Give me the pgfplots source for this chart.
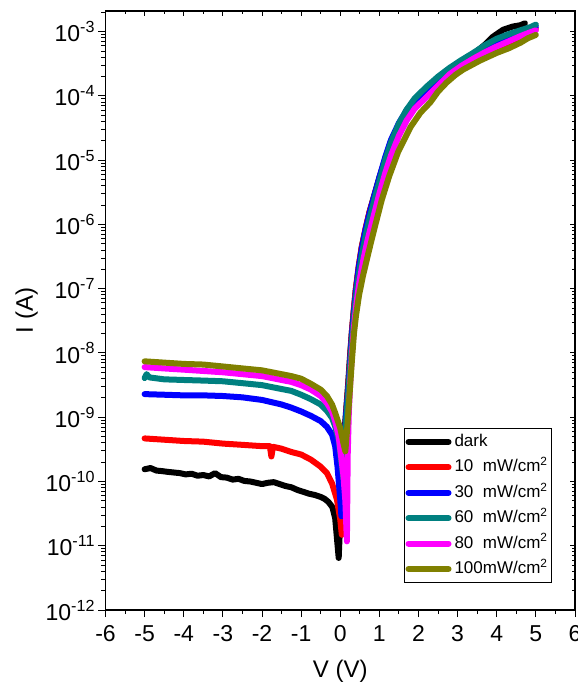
\documentclass[border=0pt]{standalone}
\usepackage{pgfplots}
\pgfplotsset{compat=1.18}
\usepackage{fontspec}
\setmainfont{Liberation Sans}
\usetikzlibrary{calc}
\definecolor{cteal}{RGB}{0,128,128}
\definecolor{colive}{RGB}{128,128,0}
\definecolor{cmag}{RGB}{255,0,255}
\definecolor{cred}{RGB}{255,0,0}
\definecolor{cblue}{RGB}{0,0,255}
\begin{document}
\begin{tikzpicture}
\begin{semilogyaxis}[name=ax, scale only axis, width=469.5pt, height=599pt,
  xmin=-6, xmax=6, ymin=1e-12, ymax=2.1e-3,
  xtick={-6,-5,-4,-3,-2,-1,0,1,2,3,4,5,6}, minor x tick num=1,
  ytick={1e-12,1e-11,1e-10,1e-9,1e-8,1e-7,1e-6,1e-5,1e-4,1e-3},
  minor ytick={2e-12,3e-12,4e-12,5e-12,6e-12,7e-12,8e-12,9e-12,
    2e-11,3e-11,4e-11,5e-11,6e-11,7e-11,8e-11,9e-11,
    2e-10,3e-10,4e-10,5e-10,6e-10,7e-10,8e-10,9e-10,
    2e-9,3e-9,4e-9,5e-9,6e-9,7e-9,8e-9,9e-9,
    2e-8,3e-8,4e-8,5e-8,6e-8,7e-8,8e-8,9e-8,
    2e-7,3e-7,4e-7,5e-7,6e-7,7e-7,8e-7,9e-7,
    2e-6,3e-6,4e-6,5e-6,6e-6,7e-6,8e-6,9e-6,
    2e-5,3e-5,4e-5,5e-5,6e-5,7e-5,8e-5,9e-5,
    2e-4,3e-4,4e-4,5e-4,6e-4,7e-4,8e-4,9e-4,2e-3},
  major tick length=7pt, minor tick length=4pt,
  tick style={black, line width=1pt},
  axis line style={line width=1.3pt},
  tick align=outside, xtick pos=left, ytick pos=left,
  xticklabels={-6,-5,-4,-3,-2,-1,0,1,2,3,4,5,6},
  yticklabels={10\textsuperscript{-12},10\textsuperscript{-11},10\textsuperscript{-10},10\textsuperscript{-9},10\textsuperscript{-8},10\textsuperscript{-7},10\textsuperscript{-6},10\textsuperscript{-5},10\textsuperscript{-4},10\textsuperscript{-3}},
  ticklabel style={font=\fontsize{23}{23}\selectfont},
  xticklabel style={yshift=-5pt},
  xlabel={V (V)}, ylabel={I (A)},
  label style={font=\fontsize{24}{24}\selectfont},
  xlabel style={at={(axis description cs:0.5,-0.102)}, anchor=center},
  ylabel style={at={(axis description cs:-0.168,0.5)}, anchor=center},
  legend cell align=left,
  legend image code/.code={\draw[#1, line width=6pt, line cap=round] (0pt,0pt) -- (40pt,0pt);},
  legend style={at={(0.951,0.304)}, anchor=north east, draw=black, line width=0.8pt,
    font=\fontsize{17}{17}\selectfont,
    nodes={text height=13pt, text depth=4pt, inner ysep=4.2pt, inner xsep=3pt},
    inner sep=1pt},
  every axis plot/.append style={no marks, line width=6pt, line join=round, line cap=round},
]
% dark
\addplot[black] coordinates {
(-5.00,1.55e-10)(-4.85,1.62e-10)(-4.70,1.48e-10)(-4.55,1.45e-10)(-4.40,1.41e-10)
(-4.25,1.38e-10)(-4.10,1.35e-10)(-3.95,1.29e-10)(-3.80,1.32e-10)(-3.65,1.23e-10)
(-3.50,1.26e-10)(-3.35,1.20e-10)(-3.20,1.35e-10)(-3.05,1.17e-10)(-2.90,1.15e-10)
(-2.75,1.07e-10)(-2.60,1.10e-10)(-2.45,1.02e-10)(-2.30,1.00e-10)(-2.15,9.55e-11)
(-2.00,9.12e-11)(-1.85,9.55e-11)(-1.70,9.77e-11)(-1.55,9.12e-11)(-1.40,8.51e-11)
(-1.25,8.13e-11)(-1.10,7.41e-11)(-0.95,6.92e-11)(-0.80,6.46e-11)(-0.65,6.17e-11)
(-0.50,5.75e-11)(-0.40,5.37e-11)(-0.30,4.79e-11)(-0.20,3.98e-11)(-0.13,2.69e-11)
(-0.085,1.32e-11)(-0.04,6.46e-12)(0.00,2.51e-11)(0.05,1.26e-10)(0.10,5.01e-10)
(0.15,1.26e-9)(0.20,3.16e-9)(0.25,8.91e-9)(0.30,2.24e-8)(0.40,1.00e-7)
(0.55,4.47e-7)(0.75,1.58e-6)(1.00,5.37e-6)(1.30,2.00e-5)(1.70,6.03e-5)
(2.20,1.32e-4)(2.80,2.51e-4)(3.40,4.47e-4)(3.70,6.31e-4)(3.90,8.32e-4)
(4.16,1.07e-3)(4.40,1.20e-3)(4.60,1.26e-3)(4.72,1.35e-3)
};
\addlegendentry{dark}
% 10 mW/cm2
\addplot[cred] coordinates {
(-5.00,4.68e-10)(-4.50,4.47e-10)(-4.00,4.27e-10)(-3.50,4.17e-10)(-3.00,3.89e-10)
(-2.50,3.72e-10)(-2.00,3.55e-10)(-1.80,3.55e-10)(-1.76,2.45e-10)(-1.72,3.47e-10)
(-1.50,3.24e-10)(-1.25,2.88e-10)(-1.00,2.63e-10)(-0.75,2.19e-10)(-0.50,1.70e-10)
(-0.34,1.35e-10)(-0.21,9.33e-11)(-0.085,5.25e-11)(0.00,2.57e-11)(0.04,1.48e-11)
(0.07,1.00e-10)(0.10,3.55e-10)(0.15,1.12e-9)(0.20,2.82e-9)(0.25,7.94e-9)
(0.30,2.24e-8)(0.35,5.01e-8)(0.40,1.00e-7)(0.47,2.24e-7)(0.55,4.47e-7)
(0.65,8.91e-7)(0.75,1.58e-6)(0.85,2.51e-6)(1.00,5.01e-6)(1.15,1.00e-5)
(1.30,1.82e-5)(1.50,3.31e-5)(1.70,5.25e-5)(1.90,7.41e-5)(2.20,1.10e-4)
(2.50,1.55e-4)(2.80,2.14e-4)(3.10,2.88e-4)(3.40,3.72e-4)(3.70,4.57e-4)
(4.00,5.50e-4)(4.30,6.76e-4)(4.60,8.32e-4)(4.85,1.00e-3)(5.00,1.10e-3)
};
\addlegendentry{10~~mW/cm\textsuperscript{2}}
% 30
\addplot[cblue] coordinates {
(-5.00,2.29e-9)(-4.50,2.24e-9)(-4.00,2.19e-9)(-3.50,2.19e-9)(-3.00,2.14e-9)
(-2.50,2.04e-9)(-2.00,1.86e-9)(-1.50,1.58e-9)(-1.25,1.41e-9)(-1.00,1.23e-9)
(-0.75,1.05e-9)(-0.50,8.71e-10)(-0.34,7.08e-10)(-0.21,5.37e-10)(-0.13,3.55e-10)
(-0.07,1.70e-10)(0.00,5.25e-11)(0.03,2.88e-11)(0.07,1.58e-10)(0.10,3.98e-10)
(0.15,1.12e-9)(0.20,2.51e-9)(0.25,7.08e-9)(0.30,2.00e-8)(0.35,4.47e-8)
(0.40,8.91e-8)(0.47,2.09e-7)(0.55,4.17e-7)(0.65,8.51e-7)(0.75,1.51e-6)
(0.85,2.51e-6)(1.00,5.37e-6)(1.15,1.12e-5)(1.30,2.09e-5)(1.50,3.80e-5)
(1.70,6.03e-5)(1.90,8.51e-5)(2.20,1.26e-4)(2.50,1.78e-4)(2.80,2.51e-4)
(3.10,3.39e-4)(3.40,4.37e-4)(3.70,5.50e-4)(4.00,6.92e-4)(4.30,8.51e-4)
(4.60,1.00e-3)(4.85,1.12e-3)(5.00,1.20e-3)
};
\addlegendentry{30~~mW/cm\textsuperscript{2}}
% 60
\addplot[cteal] coordinates {
(-5.00,4.07e-9)(-4.95,4.68e-9)(-4.88,4.17e-9)(-4.50,3.89e-9)(-4.00,3.80e-9)
(-3.50,3.72e-9)(-3.00,3.63e-9)(-2.50,3.39e-9)(-2.00,3.16e-9)(-1.50,2.75e-9)
(-1.25,2.57e-9)(-1.00,2.24e-9)(-0.75,1.91e-9)(-0.50,1.58e-9)(-0.34,1.26e-9)
(-0.21,9.77e-10)(-0.13,7.24e-10)(-0.04,4.47e-10)(0.03,2.00e-10)(0.08,1.12e-10)
(0.12,5.01e-10)(0.17,1.26e-9)(0.22,3.16e-9)(0.27,8.91e-9)(0.32,2.24e-8)
(0.38,5.62e-8)(0.45,1.32e-7)(0.55,3.31e-7)(0.65,6.76e-7)(0.75,1.26e-6)
(0.85,2.14e-6)(1.00,4.68e-6)(1.15,1.00e-5)(1.30,1.91e-5)(1.50,3.72e-5)
(1.70,6.17e-5)(1.90,9.12e-5)(2.20,1.38e-4)(2.50,2.00e-4)(2.80,2.75e-4)
(3.10,3.63e-4)(3.40,4.68e-4)(3.70,6.17e-4)(4.00,7.76e-4)(4.30,9.12e-4)
(4.60,1.05e-3)(4.85,1.17e-3)(5.00,1.29e-3)
};
\addlegendentry{60~~mW/cm\textsuperscript{2}}
% 80
\addplot[cmag] coordinates {
(-5.00,6.03e-9)(-4.50,5.75e-9)(-4.00,5.50e-9)(-3.50,5.25e-9)(-3.00,5.01e-9)
(-2.50,4.68e-9)(-2.00,4.37e-9)(-1.50,3.80e-9)(-1.25,3.55e-9)(-1.00,3.16e-9)
(-0.75,2.69e-9)(-0.50,2.14e-9)(-0.34,1.66e-9)(-0.21,1.23e-9)(-0.13,8.71e-10)
(-0.04,5.01e-10)(0.00,3.16e-10)(0.08,1.26e-10)(0.13,5.01e-11)(0.17,1.17e-11)
(0.19,2.51e-10)(0.22,1.26e-9)(0.26,3.98e-9)(0.30,1.00e-8)(0.35,2.51e-8)
(0.42,6.31e-8)(0.50,1.41e-7)(0.60,3.02e-7)(0.70,5.75e-7)(0.85,1.32e-6)
(1.00,3.02e-6)(1.15,6.31e-6)(1.30,1.20e-5)(1.50,2.40e-5)(1.70,4.17e-5)
(1.90,6.31e-5)(2.20,9.55e-5)(2.50,1.45e-4)(2.80,2.19e-4)(3.10,2.95e-4)
(3.40,3.80e-4)(3.70,4.79e-4)(4.00,5.89e-4)(4.30,7.08e-4)(4.60,8.51e-4)
(4.85,9.77e-4)(5.00,1.05e-3)
};
\addlegendentry{80~~mW/cm\textsuperscript{2}}
% 100
\addplot[colive] coordinates {
(-5.00,7.41e-9)(-4.50,7.08e-9)(-4.00,6.76e-9)(-3.50,6.61e-9)(-3.00,6.17e-9)
(-2.50,5.75e-9)(-2.00,5.37e-9)(-1.50,4.68e-9)(-1.25,4.37e-9)(-1.00,3.98e-9)
(-0.75,3.31e-9)(-0.50,2.69e-9)(-0.34,2.14e-9)(-0.21,1.58e-9)(-0.13,1.17e-9)
(0.00,6.76e-10)(0.08,3.98e-10)(0.13,2.95e-10)(0.18,7.08e-10)(0.22,1.58e-9)
(0.26,3.55e-9)(0.30,7.94e-9)(0.35,2.00e-8)(0.40,3.72e-8)(0.48,7.94e-8)
(0.58,1.58e-7)(0.74,4.07e-7)(0.90,1.00e-6)(1.06,2.40e-6)(1.25,5.62e-6)
(1.48,1.35e-5)(1.80,3.31e-5)(2.05,5.50e-5)(2.30,7.94e-5)(2.50,1.17e-4)
(2.72,1.62e-4)(2.95,2.14e-4)(3.14,2.57e-4)(3.57,3.55e-4)(4.00,4.68e-4)
(4.30,5.50e-4)(4.61,6.76e-4)(4.80,7.94e-4)(5.00,8.91e-4)
};
\addlegendentry{100mW/cm\textsuperscript{2}}
\end{semilogyaxis}
\begin{semilogyaxis}[scale only axis, width=469.5pt, height=599pt,
  xmin=-6, xmax=6, ymin=1e-12, ymax=2.1e-3,
  xtick={-6,-5,-4,-3,-2,-1,0,1,2,3,4,5,6}, minor x tick num=1,
  ytick={1e-12,1e-11,1e-10,1e-9,1e-8,1e-7,1e-6,1e-5,1e-4,1e-3},
  major tick length=5pt, minor tick length=3pt,
  tick style={black, line width=1pt},
  tick align=inside, xtick pos=right, ytick pos=right,
  xticklabels={}, yticklabels={}, axis line style={draw=none}]
\end{semilogyaxis}
\pgfresetboundingbox
\path ($(ax.south west)+(-105.5pt,-74pt)$) rectangle ($(ax.north east)+(2pt,11pt)$);
\end{tikzpicture}
\end{document}
